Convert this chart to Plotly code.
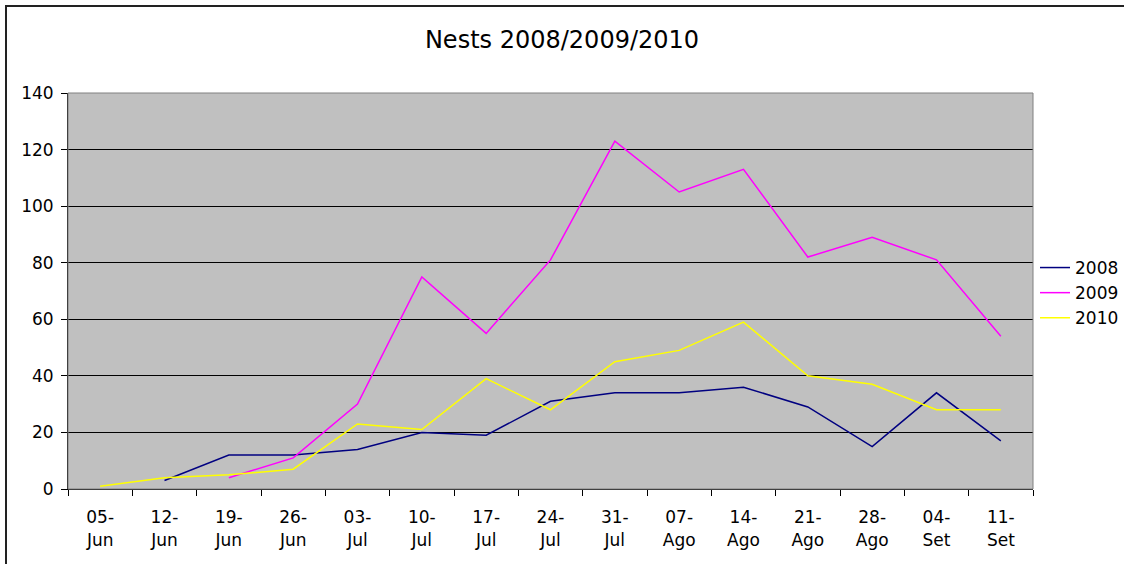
import plotly.graph_objects as go

# semaines (jj-mes)
weeks = ["05-Jun", "12-Jun", "19-Jun", "26-Jun", "03-Jul", "10-Jul", "17-Jul",
         "24-Jul", "31-Jul", "07-Ago", "14-Ago", "21-Ago", "28-Ago", "04-Set", "11-Set"]

nests_2008 = [None, 3, 12, 12, 14, 20, 19, 31, 34, 34, 36, 29, 15, 34, 17]
nests_2009 = [None, None, 4, 11, 30, 75, 55, 81, 123, 105, 113, 82, 89, 81, 54]
nests_2010 = [1, 4, 5, 7, 23, 21, 39, 28, 45, 49, 59, 40, 37, 28, 28]

series = [("2008", nests_2008, "#000080"),
          ("2009", nests_2009, "#FF00FF"),
          ("2010", nests_2010, "#FFFF00")]

fig = go.Figure()
for name, vals, col in series:
    fig.add_trace(go.Scatter(x=weeks, y=vals, name=name, mode="lines",
                             line=dict(color=col, width=1.5), connectgaps=False))

ticktext = [w.replace("-", "-<br>") for w in weeks]

L, R, T, B = 68, 91, 93, 75
W, H = 1124, 564
pw, ph = W - L - R, H - T - B

fig.update_layout(
    width=W, height=H,
    margin=dict(l=L, r=R, t=T, b=B, autoexpand=False),
    paper_bgcolor="white",
    plot_bgcolor="#C0C0C0",
    font=dict(family="DejaVu Sans", size=17, color="black"),
    title=dict(text="Nests 2008/2009/2010", x=0.5, xanchor="center",
               y=1 - 40 / H, yanchor="middle", font=dict(size=24)),
    legend=dict(x=1 + (1035 - (W - R)) / pw, xanchor="left",
                y=(H - B - 293) / ph, yanchor="middle",
                bgcolor="rgba(0,0,0,0)", font=dict(size=17),
                tracegroupgap=0),
    xaxis=dict(type="category", tickmode="array", tickvals=weeks, ticktext=ticktext,
               range=[-0.5, len(weeks) - 0.5],
               tickson="boundaries", ticks="outside", ticklen=6, tickcolor="black",
               ticklabelstandoff=13,
               showline=True, linecolor="black", linewidth=1,
               showgrid=False, zeroline=False),
    yaxis=dict(range=[0, 140], dtick=20, ticks="outside", ticklen=6, tickcolor="black",
               ticklabelstandoff=4,
               showline=True, linecolor="black", linewidth=1,
               showgrid=True, gridcolor="black", gridwidth=1, zeroline=False),
    shapes=[
        # bordure de la zone de tracé
        dict(type="rect", xref="paper", yref="paper", x0=0, x1=1, y0=0, y1=1,
             line=dict(color="#808080", width=1), layer="above"),
        # cadre du graphique (coupé à droite et en bas)
        dict(type="rect", xref="paper", yref="paper",
             x0=-(L - 6) / pw, x1=1.3, y0=-0.5, y1=1 + (T - 6) / ph,
             line=dict(color="#222222", width=2), layer="above"),
    ],
)

fig.write_html("out.html", config={"displayModeBar": False},
               post_script="document.body.style.margin='0';")
